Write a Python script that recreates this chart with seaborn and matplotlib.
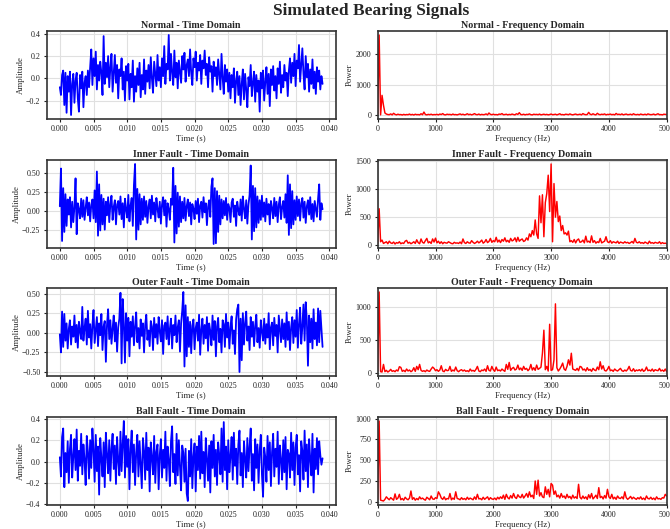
import numpy as np
import pandas as pd
import matplotlib
matplotlib.use("Agg")
import matplotlib.pyplot as plt
import seaborn as sns

# ---------------- data ----------------
fs_plot = 6000          # samples per second of the drawn time series
freq_step = 25          # Hz between spectrum points

normal_time = [
    -0.08, -0.15, 0.03, 0.07, -0.24, 0.05, -0.31, 0.02, -0.12, 0.06,
    -0.33, -0.05, 0.04, -0.22, -0.02, 0.05, -0.18, -0.30, 0.03, -0.09,
    0.06, -0.26, -0.04, 0.02, -0.15, 0.07, -0.08, 0.10, 0.26, -0.06,
    0.18, 0.02, 0.24, -0.10, 0.12, -0.02, 0.15, 0.05, -0.15, 0.38,
    -0.05, 0.14, 0.01, 0.20, -0.08, 0.10, 0.22, -0.12, 0.05, 0.21,
    -0.04, 0.12, -0.18, 0.08, 0.02, 0.18, -0.10, 0.06, -0.20, 0.11,
    -0.02, 0.13, -0.19, 0.04, -0.08, 0.16, -0.21, 0.02, -0.12, 0.09,
    -0.06, 0.14, -0.17, 0.03, -0.10, 0.17, -0.14, 0.07, -0.03, 0.12,
    -0.09, 0.19, 0.00, -0.13, 0.15, 0.04, -0.07, 0.21, -0.02, 0.10,
    -0.08, 0.18, 0.02, 0.29, -0.05, 0.13, 0.08, 0.39, -0.02, 0.22,
    0.05, -0.06, 0.25, 0.01, 0.14, -0.09, 0.16, 0.06, -0.04, 0.20,
    0.08, 0.23, -0.03, 0.12, 0.17, 0.02, 0.26, 0.05, -0.06, 0.18,
    0.10, 0.24, -0.02, 0.14, 0.07, 0.21, -0.05, 0.16, 0.09, 0.25,
    0.03, 0.13, -0.08, 0.19, 0.06, 0.11, -0.12, 0.15, 0.02, 0.10,
    -0.06, 0.17, 0.04, -0.10, 0.22, 0.01, -0.14, 0.12, -0.03, 0.08,
    -0.12, 0.05, -0.18, 0.03, -0.08, 0.09, -0.22, -0.02, 0.06, -0.15,
    0.02, -0.24, -0.05, 0.08, -0.19, 0.04, -0.10, -0.26, 0.01, -0.07,
    0.12, -0.16, -0.04, 0.06, -0.21, 0.03, -0.12, -0.02, -0.30, 0.05,
    -0.09, 0.07, -0.20, -0.03, 0.10, -0.14, 0.04, -0.25, 0.08, -0.06,
    0.11, -0.11, 0.02, -0.18, 0.09, -0.05, 0.15, -0.13, 0.03, -0.08,
    0.12, -0.02, 0.05, -0.16, 0.07, 0.18, -0.04, 0.14, 0.02, 0.22,
    -0.07, 0.16, 0.09, 0.30, -0.03, 0.12, 0.27, 0.04, -0.10, 0.20,
    0.01, 0.13, -0.12, 0.08, -0.05, 0.17, -0.09, 0.06, -0.14, 0.10,
    -0.03, 0.07, -0.10, 0.02, -0.05,
]

inner_time = [
    0.06, 0.56, -0.40, 0.30, -0.28, 0.22, -0.20, 0.15, -0.05, 0.18,
    -0.22, 0.12, -0.15, 0.05, 0.43, -0.31, 0.10, 0.02, -0.10, 0.16,
    -0.08, 0.14, -0.12, 0.04, 0.18, -0.06, 0.11, -0.14, 0.08, 0.15,
    -0.10, 0.27, -0.15, 0.52, -0.33, 0.35, -0.26, 0.21, -0.18, 0.16,
    -0.25, 0.12, -0.06, 0.18, -0.15, 0.09, 0.20, -0.12, 0.05, 0.14,
    -0.18, 0.08, 0.13, -0.05, 0.19, -0.11, 0.10, -0.22, 0.16, 0.02,
    -0.09, 0.21, -0.14, 0.07, 0.17, -0.20, 0.34, 0.62, -0.38, 0.29,
    -0.25, 0.22, -0.18, 0.16, -0.12, 0.19, -0.08, 0.13, -0.16, 0.06,
    0.15, -0.10, 0.20, -0.05, 0.11, -0.14, 0.17, 0.03, -0.09, 0.12,
    -0.17, 0.08, 0.18, -0.06, 0.14, -0.21, 0.10, 0.02, -0.12, 0.16,
    0.08, 0.57, -0.42, 0.33, -0.30, 0.24, -0.21, 0.19, -0.15, 0.12,
    -0.10, 0.17, -0.13, 0.06, 0.15, -0.07, 0.11, -0.18, 0.09, 0.03,
    -0.11, 0.13, -0.04, 0.16, -0.15, 0.07, 0.12, -0.09, 0.18, -0.02,
    0.10, -0.19, 0.05, 0.14, -0.08, 0.32, 0.43, -0.44, 0.30, -0.43,
    0.26, -0.28, 0.20, -0.18, 0.15, -0.10, 0.13, -0.06, 0.17, -0.12,
    0.09, 0.04, -0.15, 0.11, 0.16, -0.08, 0.07, -0.20, 0.12, 0.01,
    -0.06, 0.15, -0.13, 0.19, 0.03, -0.10, 0.14, -0.17, 0.08, 0.21,
    0.60, -0.38, 0.33, -0.27, 0.30, -0.22, 0.19, -0.16, 0.14, -0.12,
    0.20, -0.08, 0.11, -0.14, 0.16, -0.05, 0.09, -0.18, 0.13, 0.04,
    -0.10, 0.17, -0.07, 0.12, -0.15, 0.08, 0.18, -0.11, 0.05, 0.13,
    -0.09, 0.22, -0.16, 0.47, -0.32, 0.35, -0.23, 0.26, -0.18, 0.14,
    -0.12, 0.19, -0.07, 0.15, -0.13, 0.10, 0.17, -0.09, 0.12, -0.16,
    0.06, 0.14, -0.05, 0.18, -0.11, 0.09, -0.14, 0.13, 0.03, -0.08,
    0.16, 0.35, -0.12, 0.10, 0.02,
]

outer_time = [
    -0.02, -0.25, 0.27, -0.18, 0.24, -0.10, 0.12, -0.20, 0.05, 0.16,
    -0.15, 0.08, -0.05, 0.22, -0.12, 0.10, -0.19, 0.14, 0.02, -0.08,
    0.33, -0.10, 0.06, 0.18, -0.15, 0.28, -0.06, 0.11, -0.20, 0.09,
    0.29, -0.13, 0.04, 0.20, -0.17, 0.12, -0.03, 0.24, -0.22, 0.08,
    0.15, -0.37, 0.10, 0.30, -0.08, 0.16, -0.14, 0.05, 0.22, -0.11,
    0.13, -0.24, 0.07, 0.18, 0.51, -0.39, 0.43, 0.12, -0.38, 0.25,
    -0.10, 0.19, -0.30, 0.14, -0.05, 0.21, -0.16, 0.08, 0.26, -0.12,
    0.06, -0.20, 0.17, -0.04, 0.12, -0.25, 0.10, 0.23, -0.09, 0.03,
    -0.17, 0.15, 0.08, -0.22, 0.19, -0.06, 0.11, -0.14, 0.20, 0.02,
    -0.11, 0.16, -0.27, 0.09, 0.13, -0.08, 0.21, -0.15, 0.05, 0.18,
    -0.20, 0.10, -0.03, 0.22, -0.12, 0.07, 0.16, -0.24, 0.12, 0.28,
    0.52, -0.43, 0.35, -0.30, 0.20, -0.18, 0.14, -0.26, 0.09, 0.17,
    -0.21, 0.06, 0.13, -0.10, 0.23, -0.28, 0.04, 0.18, -0.14, 0.10,
    -0.07, 0.20, -0.23, 0.12, 0.02, -0.16, 0.22, -0.09, 0.15, -0.30,
    0.08, 0.19, -0.12, 0.05, -0.25, 0.16, 0.11, -0.18, 0.24, -0.06,
    0.13, -0.20, 0.07, 0.21, -0.14, 0.03, -0.27, 0.17, 0.30, 0.36,
    -0.50, 0.18, -0.35, 0.25, -0.15, 0.12, 0.27, -0.10, 0.08, -0.22,
    0.20, -0.05, 0.14, -0.17, 0.09, 0.23, -0.12, 0.06, -0.19, 0.16,
    0.02, -0.10, 0.18, -0.14, 0.11, -0.06, 0.25, -0.21, 0.07, 0.13,
    -0.16, 0.19, -0.04, 0.10, -0.25, 0.22, 0.05, -0.12, 0.17, -0.08,
    0.12, -0.18, 0.26, -0.09, 0.14, -0.22, 0.07, 0.20, -0.13, 0.16,
    -0.05, 0.29, -0.19, 0.11, 0.32, -0.14, 0.08, 0.36, -0.10, 0.39,
    0.15, -0.42, 0.22, -0.12, 0.18, -0.20, 0.30, -0.08, 0.13, -0.16,
    0.31, -0.12, 0.28, 0.05, -0.18,
]

ball_time = [
    0.04, -0.14, 0.23, 0.31, -0.24, 0.08, -0.10, 0.19, -0.20, 0.12,
    0.25, -0.15, 0.05, 0.21, -0.08, 0.30, -0.18, 0.10, -0.04, 0.26,
    -0.12, 0.16, 0.02, -0.22, 0.24, 0.09, -0.16, 0.20, -0.06, 0.31,
    0.11, -0.19, 0.25, -0.09, 0.14, -0.31, 0.22, 0.03, -0.14, 0.18,
    -0.24, 0.27, 0.07, -0.11, 0.20, -0.18, 0.12, 0.26, -0.07, 0.15,
    -0.21, 0.23, 0.01, -0.13, 0.28, -0.09, 0.17, 0.38, -0.15, 0.24,
    -0.05, 0.21, -0.26, 0.12, 0.29, -0.10, 0.16, -0.22, 0.08, 0.25,
    -0.14, 0.19, -0.03, -0.25, 0.22, 0.10, -0.17, 0.27, -0.08, 0.13,
    -0.28, 0.18, 0.04, -0.12, 0.24, -0.20, 0.09, 0.16, -0.26, 0.06,
    0.21, -0.15, 0.11, -0.06, 0.28, -0.18, 0.14, 0.02, -0.23, 0.19,
    0.33, -0.10, 0.07, -0.21, 0.26, -0.13, 0.20, -0.05, -0.27, 0.15,
    0.08, -0.19, 0.12, -0.30, -0.37, 0.10, -0.14, 0.21, -0.25, 0.05,
    0.17, -0.28, 0.14, -0.08, 0.24, -0.16, 0.28, -0.11, 0.09, -0.24,
    0.22, 0.03, -0.18, 0.15, -0.29, 0.19, -0.06, 0.25, -0.14, 0.11,
    -0.22, 0.18, 0.06, -0.12, 0.31, -0.19, 0.37, -0.08, 0.14, -0.26,
    0.20, -0.10, 0.05, 0.23, -0.17, 0.27, -0.04, 0.12, -0.21, 0.16,
    0.29, -0.13, 0.08, -0.24, 0.19, 0.03, -0.15, 0.22, -0.09, 0.14,
    0.31, -0.18, 0.07, -0.27, 0.21, -0.06, 0.16, -0.20, 0.10, 0.25,
    -0.12, -0.33, 0.13, 0.04, -0.19, 0.24, -0.08, 0.18, -0.23, 0.09,
    0.26, -0.14, 0.12, -0.05, 0.28, -0.21, 0.15, 0.02, -0.17, 0.20,
    -0.10, 0.23, -0.26, 0.11, 0.07, -0.15, 0.27, -0.08, 0.18, -0.22,
    0.13, 0.25, -0.12, 0.06, -0.28, 0.19, 0.10, -0.17, 0.29, -0.09,
    0.16, -0.24, 0.21, 0.03, -0.13, 0.26, -0.29, 0.12, -0.07, 0.22,
    -0.12, 0.19, 0.06, -0.03, 0.03,
]

normal_power = [
    40, 2600, 20, 650, 330, 80, 45, 30, 25, 50, 20, 70, 35, 20, 40, 25, 30, 15, 35, 20,
    30, 25, 45, 20, 35, 15, 40, 25, 30, 20, 55, 25, 110, 30, 20, 35, 25, 40, 20, 30,
    25, 35, 20, 45, 30, 60, 25, 20, 40, 30, 35, 20, 45, 25, 30, 20, 35, 50, 25, 40,
    20, 30, 55, 25, 40, 20, 35, 60, 30, 25, 45, 20, 35, 25, 30, 50, 20, 80, 35, 25,
    40, 25, 30, 20, 45, 35, 60, 25, 30, 40, 20, 35, 25, 45, 30, 20, 55, 35, 90, 30,
    25, 40, 20, 35, 30, 50, 25, 20, 40, 30, 35, 25, 45, 20, 30, 40, 25, 35, 20, 30,
    45, 25, 30, 40, 20, 35, 55, 25, 30, 20, 40, 35, 25, 50, 30, 20, 35, 45, 25, 30,
    40, 20, 60, 35, 25, 30, 100, 40, 25, 55, 30, 20, 70, 35, 25, 40, 30, 50, 20, 35,
    30, 45, 25, 35, 20, 65, 30, 40, 25, 50, 20, 35, 45, 25, 30, 40, 20, 55, 30, 25,
    35, 20, 45, 30, 25, 40, 20, 50, 35, 25, 30, 45, 20, 35, 55, 25, 30, 20, 40, 35,
    30,
]

inner_power = [
    30, 650, 60, 90, 30, 45, 60, 25, 70, 40, 30, 55, 20, 45, 35, 60, 25, 40, 30, 70,
    85, 35, 50, 25, 40, 60, 30, 95, 45, 25, 110, 50, 35, 80, 120, 40, 60, 30, 110, 55,
    125, 40, 70, 30, 60, 25, 50, 40, 35, 60, 45, 30, 25, 50, 35, 40, 30, 55, 25, 110,
    45, 30, 60, 40, 35, 80, 50, 30, 45, 70, 40, 60, 90, 35, 55, 100, 45, 65, 120, 50,
    80, 60, 140, 55, 90, 45, 100, 70, 130, 60, 85, 50, 120, 75, 90, 130, 60, 140, 70, 95,
    110, 65, 80, 130, 90, 200, 150, 260, 180, 450, 200, 120, 880, 400, 900, 150, 760, 920, 1250, 600,
    1450, 60, 1100, 500, 780, 420, 520, 260, 350, 200, 220, 180, 250, 60, 80, 50, 100, 40, 90, 110,
    50, 60, 90, 40, 160, 55, 70, 45, 165, 50, 80, 35, 60, 45, 120, 40, 55, 70, 150, 60,
    45, 80, 35, 60, 50, 40, 70, 30, 55, 45, 35, 60, 40, 50, 30, 45, 65, 35, 120, 50,
    40, 60, 35, 45, 30, 55, 40, 25, 70, 35, 45, 30, 50, 40, 35, 60, 25, 45, 30, 35,
    25,
]

outer_power = [
    30, 1230, 20, 15, 130, 20, 40, 15, 30, 55, 25, 35, 20, 45, 30, 95, 85, 25, 40, 20,
    60, 30, 45, 20, 35, 80, 25, 100, 50, 130, 40, 25, 35, 20, 45, 30, 25, 60, 90, 70,
    35, 50, 25, 45, 110, 30, 20, 55, 35, 40, 100, 25, 45, 30, 90, 35, 20, 40, 50, 30,
    45, 25, 35, 20, 60, 30, 40, 25, 55, 100, 30, 20, 45, 35, 60, 25, 110, 40, 30, 100,
    50, 25, 90, 35, 45, 30, 60, 40, 25, 130, 55, 160, 40, 70, 85, 45, 60, 120, 50, 75,
    40, 100, 55, 70, 35, 60, 130, 45, 80, 40, 120, 55, 70, 90, 300, 650, 50, 100, 30, 740,
    40, 50, 200, 1050, 80, 30, 60, 100, 150, 60, 40, 100, 200, 120, 300, 60, 50, 40, 70, 35,
    100, 90, 45, 60, 30, 80, 40, 55, 25, 70, 45, 35, 90, 50, 170, 60, 110, 40, 30, 55,
    100, 35, 45, 25, 60, 40, 30, 50, 70, 35, 25, 45, 30, 55, 100, 40, 30, 65, 25, 45,
    35, 50, 30, 60, 25, 40, 90, 35, 45, 30, 60, 25, 50, 40, 35, 70, 30, 45, 25, 60,
    20,
]

ball_power = [
    30, 970, 20, 15, 10, 30, 60, 40, 25, 50, 35, 20, 95, 30, 45, 90, 25, 40, 20, 55,
    35, 25, 45, 130, 30, 50, 20, 40, 25, 60, 35, 45, 30, 20, 55, 40, 25, 70, 35, 30,
    50, 40, 120, 90, 45, 30, 60, 25, 40, 35, 100, 25, 45, 30, 120, 40, 35, 25, 50, 30,
    40, 25, 55, 30, 45, 35, 25, 60, 30, 90, 35, 40, 25, 55, 30, 45, 60, 25, 50, 35,
    30, 45, 25, 55, 35, 60, 40, 80, 30, 90, 50, 35, 75, 45, 100, 55, 40, 85, 60, 50,
    90, 45, 70, 100, 55, 120, 60, 80, 40, 250, 90, 260, 70, 110, 60, 50, 180, 90, 150, 60,
    220, 200, 90, 130, 60, 80, 45, 100, 55, 70, 40, 90, 50, 65, 35, 80, 45, 60, 40, 210,
    55, 35, 70, 40, 60, 30, 85, 45, 100, 35, 55, 80, 40, 170, 50, 65, 35, 75, 45, 150,
    60, 40, 90, 35, 55, 30, 70, 45, 40, 60, 35, 120, 50, 30, 45, 65, 35, 55, 40, 30,
    50, 35, 60, 30, 45, 25, 70, 40, 35, 55, 30, 45, 25, 60, 35, 40, 30, 50, 45, 90,
    70,
]

conditions = ["Normal", "Inner Fault", "Outer Fault", "Ball Fault"]
time_series = [normal_time, inner_time, outer_time, ball_time]
power_series = [normal_power, inner_power, outer_power, ball_power]

# ---------------- style ----------------
sns.set_theme(style="whitegrid")
plt.rcParams["font.family"] = ["Liberation Serif", "DejaVu Serif"]
plt.rcParams.update({
    "axes.edgecolor": "#333333",
    "axes.linewidth": 1.2,
    "grid.color": "#e0e0e0",
    "grid.linewidth": 0.8,
    "xtick.bottom": True,
    "ytick.left": True,
    "xtick.major.size": 2.5,
    "ytick.major.size": 2.5,
    "xtick.major.width": 0.8,
    "ytick.major.width": 0.8,
    "xtick.color": "#222222",
    "ytick.color": "#222222",
    "xtick.major.pad": 2,
    "ytick.major.pad": 2,
    "axes.unicode_minus": True,
})

fig = plt.figure(figsize=(6.70, 5.29), dpi=100)
W, H = 670.0, 529.0
left_x = [46.7, 377.7]
ax_w = 289.0
row_tops = [31, 160, 288, 417]
ax_h = 88.0

tick_fs = 5.8
label_fs = 6.3
title_fs = 7.2

for r, name in enumerate(conditions):
    top = row_tops[r]
    # time domain
    ax_t = fig.add_axes([left_x[0] / W, 1 - (top + ax_h) / H, ax_w / W, ax_h / H])
    y = np.asarray(time_series[r], dtype=float)
    t = np.arange(len(y)) / fs_plot
    df_t = pd.DataFrame({"Time (s)": t, "Amplitude": y})
    sns.lineplot(data=df_t, x="Time (s)", y="Amplitude", ax=ax_t,
                 color="#0000ff", linewidth=1.3, estimator=None)
    ax_t.set_title(f"{name} - Time Domain", fontsize=title_fs, fontweight="bold", pad=2.5)
    ax_t.set_xlabel("Time (s)", fontsize=label_fs, labelpad=1)
    ax_t.set_ylabel("Amplitude", fontsize=label_fs, labelpad=0.5)
    ax_t.xaxis.set_major_locator(matplotlib.ticker.MultipleLocator(0.005))
    ax_t.xaxis.set_major_formatter(matplotlib.ticker.FormatStrFormatter("%.3f"))
    ax_t.tick_params(labelsize=tick_fs)

    # frequency domain
    ax_f = fig.add_axes([left_x[1] / W, 1 - (top + ax_h) / H, ax_w / W, ax_h / H])
    p = np.asarray(power_series[r], dtype=float)
    f = np.arange(len(p)) * freq_step
    df_f = pd.DataFrame({"Frequency (Hz)": f, "Power": p})
    sns.lineplot(data=df_f, x="Frequency (Hz)", y="Power", ax=ax_f,
                 color="#ff0000", linewidth=1.05, estimator=None)
    ax_f.set_xlim(0, 5000)
    ax_f.set_title(f"{name} - Frequency Domain", fontsize=title_fs, fontweight="bold", pad=2.5)
    ax_f.set_xlabel("Frequency (Hz)", fontsize=label_fs, labelpad=1)
    ax_f.set_ylabel("Power", fontsize=label_fs, labelpad=1.5)
    ax_f.tick_params(labelsize=tick_fs)

fig.text(371 / W, 1 - 11 / H, "Simulated Bearing Signals", ha="center", va="center",
         fontsize=12.5, fontweight="bold")

fig.savefig("out.png", dpi=100)
